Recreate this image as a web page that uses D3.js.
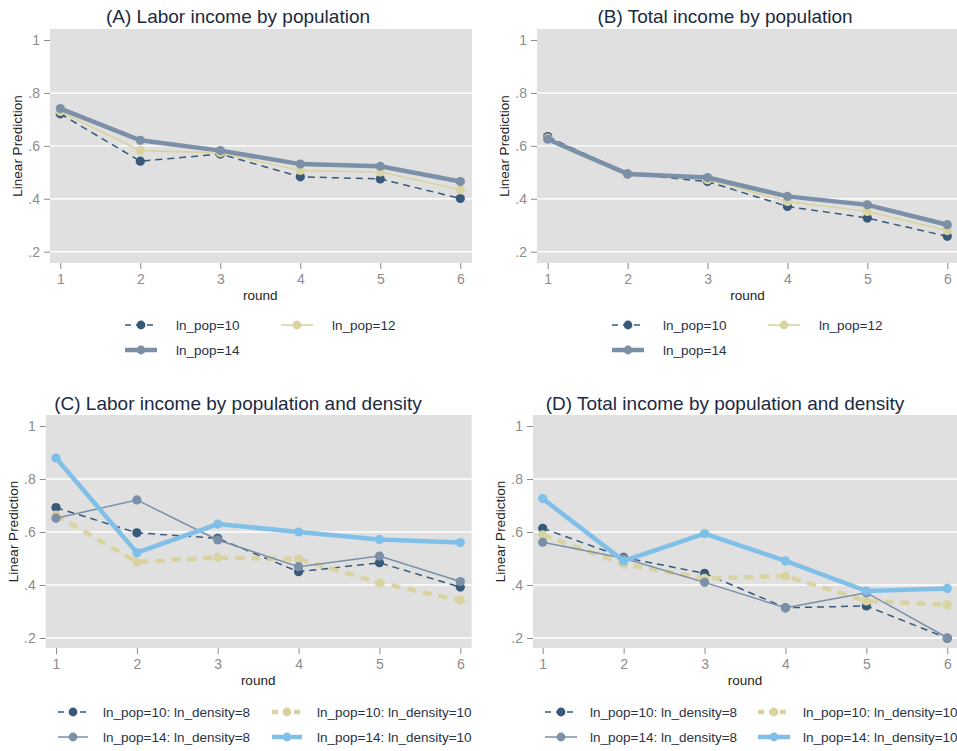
<!DOCTYPE html>
<meta charset="utf-8">
<style>
    body { margin: 0; background: #fff; }
    text { font-family: "Liberation Sans", Arial, sans-serif; }
    .title { font-size: 19px; fill: #1b2a41; }
    .tick text { font-size: 14px; fill: #8c8c8c; }
    .tick line { stroke: #8c8c8c; }
    .axis path { display: none; }
    .axtitle { font-size: 13.5px; fill: #222; }
    .legend text { font-size: 13.5px; fill: #2a3346; }
    .grid line { stroke: #fff; stroke-width: 1.4px; }
</style>
<body>
<svg width="957" height="751"></svg>
</body>
<script src="https://d3js.org/d3.v7.min.js"></script>
<script>
    var rounds = [1, 2, 3, 4, 5, 6];
    var yTicks = [0.2, 0.4, 0.6, 0.8, 1];
    var fmtTick = function (d) { return d === 1 ? "1" : String(d).replace("0.", "."); };

    // (A) labor income by population
    var laborPop10 = [0.721, 0.542, 0.569, 0.483, 0.475, 0.401];
    var laborPop12 = [0.730, 0.582, 0.574, 0.507, 0.501, 0.434];
    var laborPop14 = [0.741, 0.621, 0.582, 0.531, 0.523, 0.465];
    // (B) total income by population
    var totalPop10 = [0.635, 0.494, 0.465, 0.371, 0.327, 0.258];
    var totalPop12 = [0.629, 0.494, 0.472, 0.390, 0.352, 0.280];
    var totalPop14 = [0.625, 0.494, 0.480, 0.409, 0.377, 0.302];
    // (C) labor income by population and density
    var laborP10D8  = [0.692, 0.597, 0.576, 0.450, 0.484, 0.392];
    var laborP10D10 = [0.664, 0.487, 0.504, 0.498, 0.408, 0.342];
    var laborP14D8  = [0.652, 0.721, 0.570, 0.469, 0.509, 0.413];
    var laborP14D10 = [0.879, 0.522, 0.630, 0.600, 0.572, 0.560];
    // (D) total income by population and density
    var totalP10D8  = [0.614, 0.504, 0.444, 0.314, 0.321, 0.199];
    var totalP10D10 = [0.589, 0.478, 0.425, 0.434, 0.340, 0.325];
    var totalP14D8  = [0.561, 0.501, 0.410, 0.314, 0.371, 0.201];
    var totalP14D10 = [0.726, 0.491, 0.594, 0.491, 0.377, 0.387];

    var popLabels = ["ln_pop=10", "ln_pop=12", "ln_pop=14"];
    var densLabels = ["ln_pop=10: ln_density=8", "ln_pop=10: ln_density=10",
                      "ln_pop=14: ln_density=8", "ln_pop=14: ln_density=10"];

    // line styles
    var sDark  = {color: "#37597a", width: 1.5, dash: "7,5"};
    var sBeige = {color: "#d8d3a0", width: 1.6, dash: null};
    var sGray  = {color: "#7b8fa7", width: 4.5, dash: null};
    var sBeigeDash = {color: "#d8d3a0", width: 4.5, dash: "9,7"};
    var sGrayThin  = {color: "#7b8fa7", width: 1.5, dash: null};
    var sBlue  = {color: "#80bfe8", width: 4.5, dash: null};

    var svg = d3.select("svg");

    var panels = [
        {title: "(A) Labor income by population", tx: 238, ty: 23,
         box: [50, 29, 472, 263], xr: [60.3, 460.3], yr: [251.7, 40],
         series: [[laborPop10, sDark], [laborPop12, sBeige], [laborPop14, sGray]],
         labels: popLabels, legend: {x: [125, 281], y: [325, 350], w: 32, tx: 51}},
        {title: "(B) Total income by population", tx: 725, ty: 23,
         box: [537, 29, 957, 263], xr: [547.7, 947.3], yr: [251.7, 40],
         series: [[totalPop10, sDark], [totalPop12, sBeige], [totalPop14, sGray]],
         labels: popLabels, legend: {x: [612, 768], y: [325, 350], w: 32, tx: 51}},
        {title: "(C) Labor income by population and density", tx: 238, ty: 410,
         box: [45.7, 415, 471.7, 648], xr: [56, 460.3], yr: [638, 426],
         series: [[laborP10D8, sDark], [laborP10D10, sBeigeDash], [laborP14D8, sGrayThin], [laborP14D10, sBlue]],
         labels: densLabels, legend: {x: [58, 272], y: [712, 737], w: 30, tx: 45}},
        {title: "(D) Total income by population and density", tx: 725, ty: 410,
         box: [533, 415, 957, 648], xr: [542.7, 947.3], yr: [638, 426],
         series: [[totalP10D8, sDark], [totalP10D10, sBeigeDash], [totalP14D8, sGrayThin], [totalP14D10, sBlue]],
         labels: densLabels, legend: {x: [545, 758], y: [712, 737], w: 32, tx: 45}}
    ];

    panels.forEach(function (p) {
        var g = svg.append("g");
        var x = d3.scaleLinear().domain([1, 6]).range(p.xr);
        var y = d3.scaleLinear().domain([0.2, 1]).range(p.yr);
        var b = p.box;

        g.append("rect")
            .attr("x", b[0]).attr("y", b[1])
            .attr("width", b[2] - b[0]).attr("height", b[3] - b[1])
            .attr("fill", "#e0e0e0");

        // white gridlines
        g.append("g").attr("class", "grid")
            .selectAll("line").data(yTicks.filter(function (d) { return d < 1; }))
            .enter().append("line")
            .attr("x1", b[0]).attr("x2", b[2])
            .attr("y1", function (d) { return y(d); })
            .attr("y2", function (d) { return y(d); });

        g.append("g").attr("class", "axis")
            .attr("transform", "translate(" + b[0] + ",0)")
            .call(d3.axisLeft(y).tickValues(yTicks).tickFormat(fmtTick).tickSize(6).tickPadding(4));

        g.append("g").attr("class", "axis")
            .attr("transform", "translate(0," + b[3] + ")")
            .call(d3.axisBottom(x).tickValues(rounds).tickFormat(d3.format("d")).tickSize(6).tickPadding(5));

        g.append("text").attr("class", "title")
            .attr("x", p.tx).attr("y", p.ty)
            .attr("text-anchor", "middle")
            .text(p.title);

        g.append("text").attr("class", "axtitle")
            .attr("transform", "translate(" + (b[0] - 28) + "," + ((b[1] + b[3]) / 2) + ") rotate(-90)")
            .attr("text-anchor", "middle")
            .text("Linear Prediction");

        g.append("text").attr("class", "axtitle")
            .attr("x", (p.xr[0] + p.xr[1]) / 2).attr("y", b[3] + 37)
            .attr("text-anchor", "middle")
            .text("round");

        var line = d3.line()
            .x(function (d, i) { return x(rounds[i]); })
            .y(function (d) { return y(d); });

        p.series.forEach(function (s) {
            var st = s[1];
            g.append("path")
                .datum(s[0])
                .attr("d", line)
                .attr("fill", "none")
                .attr("stroke", st.color)
                .attr("stroke-width", st.width)
                .attr("stroke-dasharray", st.dash);
            g.selectAll(null)
                .data(s[0])
                .enter().append("circle")
                .attr("cx", function (d, i) { return x(rounds[i]); })
                .attr("cy", function (d) { return y(d); })
                .attr("r", 4.6)
                .attr("fill", st.color);
        });

        // legend
        var lg = g.append("g").attr("class", "legend");
        p.series.forEach(function (s, i) {
            var st = s[1];
            var lx = p.legend.x[i % 2], ly = p.legend.y[Math.floor(i / 2)];
            var w = p.legend.w;
            lg.append("line")
                .attr("x1", lx).attr("x2", lx + w)
                .attr("y1", ly).attr("y2", ly)
                .attr("stroke", st.color)
                .attr("stroke-width", st.width)
                .attr("stroke-dasharray", st.dash ? "6,5" : null);
            lg.append("circle")
                .attr("cx", lx + w / 2).attr("cy", ly).attr("r", 4.4)
                .attr("fill", st.color);
            lg.append("text")
                .attr("x", lx + p.legend.tx).attr("y", ly + 5)
                .text(p.labels[i]);
        });
    });
</script>
